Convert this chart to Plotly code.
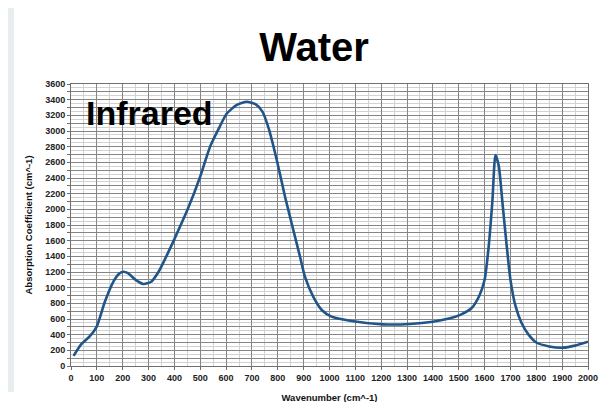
import plotly.graph_objects as go

wavenumber = [10, 40, 73, 99, 131, 164, 185, 202, 220, 250, 280, 310, 340, 376,
              400, 450, 499, 538, 570, 602, 640, 680, 715, 740, 765, 796, 828, 860, 886, 905, 937, 970,
              1008, 1079, 1207, 1311, 1400, 1466, 1510, 1550, 1580, 1600, 1615, 1630, 1642, 1655,
              1670, 1685, 1700, 1720, 1743, 1770, 1800, 1850, 1903, 1950, 2000]
absorption = [130, 280, 380, 500, 820, 1077, 1175, 1204, 1185, 1100, 1047, 1075, 1210, 1450,
              1620, 1990, 2410, 2800, 3020, 3220, 3330, 3374, 3340, 3250, 3030, 2630, 2161, 1736, 1395, 1140, 885, 715,
              630, 578, 532, 536, 565, 609, 660, 740, 900, 1100, 1500, 2100, 2694, 2550,
              2050, 1550, 1100, 760, 549, 400, 300, 250, 234, 260, 310]

y_tickvals = list(range(0, 3601, 100))
y_ticktext = [str(v) if v % 200 == 0 else "" for v in y_tickvals]
x_tickvals = list(range(0, 2001, 100))
x_ticktext = [str(v) for v in x_tickvals]

fig = go.Figure()
fig.add_trace(go.Scatter(
    x=wavenumber, y=absorption, mode="lines",
    line=dict(color="#1f5588", width=2.6, shape="spline", smoothing=0.6),
    hoverinfo="skip", showlegend=False,
))

grey = "#e8edef"
fig.add_shape(type="rect", xref="paper", yref="paper", x0=-0.2, x1=-0.1103, y0=-0.0922, y1=1.35,
              fillcolor=grey, line_width=0, layer="below")

tickfont = dict(family="Liberation Sans Narrow, Liberation Sans, Arial", size=9, color="#222222", weight="bold")
titlefont = dict(family="Liberation Sans, Arial", size=9.5, color="#111111", weight="bold")

fig.update_layout(
    width=607, height=402,
    margin=dict(l=63, r=27, t=76, b=44),
    paper_bgcolor="white", plot_bgcolor="white",
    title=dict(text="Water", x=(314-8)/607, xanchor="center", y=1-39/402, yanchor="middle",
               font=dict(family="Liberation Sans, Arial", size=40, color="black", weight="bold")),
    xaxis=dict(range=[0, 2000], tickvals=x_tickvals, ticktext=x_ticktext, automargin=False,
               showgrid=True, gridcolor="#858585", gridwidth=1,
               minor=dict(dtick=50, showgrid=True, gridcolor="#d2d2d2", gridwidth=1),
               showline=True, linecolor="#707070", linewidth=1, mirror=True,
               ticks="outside", ticklen=3, tickcolor="#707070",
               tickfont=tickfont, zeroline=False,
               title=dict(text="Wavenumber (cm^-1)", standoff=12, font=titlefont)),
    yaxis=dict(range=[0, 3600], tickvals=y_tickvals, ticktext=y_ticktext, automargin=False,
               showgrid=True, gridcolor="#858585", gridwidth=1,
               minor=dict(dtick=50, showgrid=True, gridcolor="#d2d2d2", gridwidth=1),
               showline=True, linecolor="#707070", linewidth=1, mirror=True,
               ticks="outside", ticklen=3, tickcolor="#707070",
               tickfont=tickfont, zeroline=False,
               title=dict(text="Absorption Coefficient (cm^-1)", standoff=10, font=titlefont)),
    annotations=[dict(text="Infrared", xref="paper", yref="paper", x=(84-71)/517, y=(366-113)/282,
                      xanchor="left", yanchor="middle", showarrow=False,
                      font=dict(family="Liberation Sans, Arial", size=34, color="black", weight="bold"))],
)

fig.write_html("out.html")
